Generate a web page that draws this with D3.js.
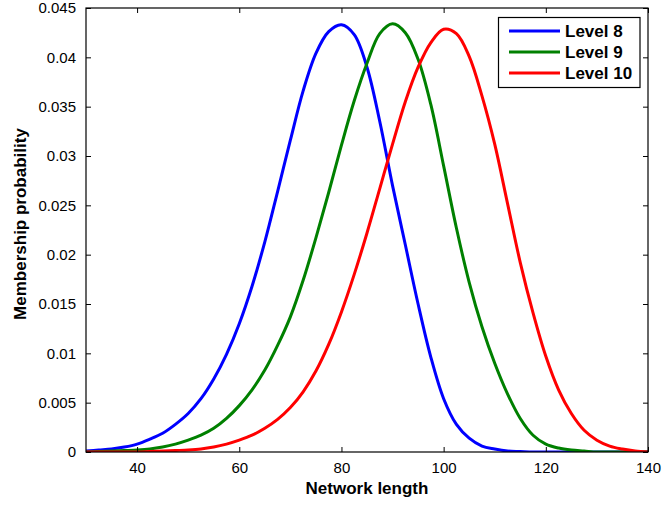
<!DOCTYPE html>
<html>
<head>
<meta charset="utf-8">
<script src="https://cdn.jsdelivr.net/npm/d3@7"></script>
<style>
  html, body { margin: 0; padding: 0; background: #fff; }
  svg { display: block; }
  text { font-family: "Liberation Sans", Arial, Helvetica, sans-serif; }
</style>
</head>
<body>
<div id="chart"></div>
<script>
// Network length grid (x values shared by all series)
const lengths = [30, 32.5, 35, 37.5, 40, 42.5, 45, 47.5, 50, 52.5, 55, 57.5, 60, 62.5, 65, 67.5,
  70, 72.5, 75, 77.5, 80, 82.5, 85, 87.5, 90, 92.5, 95, 97.5, 100, 102.5, 105, 107.5,
  110, 112.5, 115, 117.5, 120, 122.5, 125, 127.5, 130, 132.5, 135, 137.5, 140];

// Membership probability for each level
const level8 = [0.0001, 0.0002, 0.0003, 0.0005, 0.0008, 0.0013, 0.0019, 0.0028, 0.0039, 0.0054, 0.0074, 0.0099,
  0.0130, 0.0168, 0.0213, 0.0264, 0.0316, 0.0366, 0.0404, 0.0426, 0.0433, 0.0423, 0.0390, 0.0335,
  0.0270, 0.0210, 0.0150, 0.0096, 0.0054, 0.0028, 0.0014, 0.0006, 0.0003, 0.0001, 0.00005, 0,
  0, 0, 0, 0, 0, 0, 0, 0, 0];
const level9 = [0, 0.00005, 0.0001, 0.00015, 0.0002, 0.0003, 0.0005, 0.0008, 0.0012, 0.0017, 0.0024, 0.0034,
  0.0047, 0.0063, 0.0083, 0.0108, 0.0137, 0.0174, 0.0217, 0.0263, 0.0311, 0.0356, 0.0394, 0.0424,
  0.0434, 0.0425, 0.0398, 0.0352, 0.0290, 0.0227, 0.0172, 0.0127, 0.0090, 0.0059, 0.0034, 0.0017,
  0.0008, 0.0004, 0.0002, 0.0001, 0, 0, 0, 0, 0];
const level10 = [0, 0, 0, 0, 0, 0.00005, 0.0001, 0.00015, 0.0002, 0.0003, 0.0005, 0.0008,
  0.0012, 0.0017, 0.0024, 0.0033, 0.0045, 0.0061, 0.0082, 0.0109, 0.0142, 0.0180, 0.0222, 0.0267,
  0.0312, 0.0355, 0.0390, 0.0415, 0.04285, 0.0424, 0.0401, 0.0361, 0.0312, 0.0252, 0.0192, 0.0141,
  0.0097, 0.0063, 0.0039, 0.0022, 0.0012, 0.0006, 0.0003, 0.0001, 0];

const seriesNames = ["Level 8", "Level 9", "Level 10"];
const seriesColors = ["#0000ff", "#008000", "#ff0000"];
const seriesValues = [level8, level9, level10];

const xTicks = [40, 60, 80, 100, 120, 140];
const yTicks = [0, 0.005, 0.01, 0.015, 0.02, 0.025, 0.03, 0.035, 0.04, 0.045];
const yTickLabels = ["0", "0.005", "0.01", "0.015", "0.02", "0.025", "0.03", "0.035", "0.04", "0.045"];

const W = 662, H = 505;
const plotLeft = 86, plotRight = 648, plotTop = 8, plotBottom = 452;

const svg = d3.select("#chart").append("svg")
  .attr("width", W).attr("height", H);

const x = d3.scaleLinear().domain([30, 140]).range([plotLeft, plotRight]);
const y = d3.scaleLinear().domain([0, 0.045]).range([plotBottom, plotTop]);

// Curves
const line = d3.line()
  .x(d => x(d[0]))
  .y(d => y(d[1]))
  .curve(d3.curveCatmullRom.alpha(0.5));

svg.append("clipPath").attr("id", "plot-clip")
  .append("rect").attr("x", plotLeft).attr("y", plotTop - 3)
  .attr("width", plotRight - plotLeft).attr("height", plotBottom - plotTop + 3);

const plot = svg.append("g").attr("clip-path", "url(#plot-clip)");
seriesValues.forEach((vals, i) => {
  plot.append("path")
    .datum(lengths.map((l, j) => [l, vals[j]]))
    .attr("fill", "none")
    .attr("stroke", seriesColors[i])
    .attr("stroke-width", 3)
    .attr("stroke-linejoin", "round")
    .attr("d", line);
});

// Axes: ticks pointing inward on all four sides
const tickLen = 5;
const fontSize = 15;

const xBottom = svg.append("g").attr("transform", `translate(0,${plotBottom})`)
  .call(d3.axisBottom(x).tickValues(xTicks).tickSize(-tickLen).tickPadding(10)
    .tickFormat(d3.format("d")));
const xTop = svg.append("g").attr("transform", `translate(0,${plotTop})`)
  .call(d3.axisTop(x).tickValues(xTicks).tickSize(-tickLen).tickFormat(""));
const yLeft = svg.append("g").attr("transform", `translate(${plotLeft},0)`)
  .call(d3.axisLeft(y).tickValues(yTicks).tickSize(-tickLen).tickPadding(10)
    .tickFormat((d, i) => yTickLabels[i]));
const yRight = svg.append("g").attr("transform", `translate(${plotRight},0)`)
  .call(d3.axisRight(y).tickValues(yTicks).tickSize(-tickLen).tickFormat(""));

[xBottom, xTop, yLeft, yRight].forEach(g => {
  g.select(".domain").remove();
  g.selectAll(".tick line").attr("stroke", "#000").attr("stroke-width", 1);
  g.selectAll(".tick text")
    .attr("fill", "#000")
    .style("font-size", fontSize + "px");
});

// Box
svg.append("rect")
  .attr("x", plotLeft).attr("y", plotTop)
  .attr("width", plotRight - plotLeft).attr("height", plotBottom - plotTop)
  .attr("fill", "none").attr("stroke", "#000").attr("stroke-width", 1.2);

// Axis titles
svg.append("text")
  .attr("x", (plotLeft + plotRight) / 2).attr("y", 494)
  .attr("text-anchor", "middle")
  .style("font-size", "17px").style("font-weight", "bold")
  .text("Network length");

svg.append("text")
  .attr("transform", `translate(26,${(plotTop + plotBottom) / 2 - 6}) rotate(-90)`)
  .attr("text-anchor", "middle")
  .style("font-size", "17px").style("font-weight", "bold")
  .text("Membership probability");

// Legend
const lg = svg.append("g");
lg.append("rect")
  .attr("x", 498.5).attr("y", 17.5)
  .attr("width", 141.5).attr("height", 70)
  .attr("fill", "#fff").attr("stroke", "#000").attr("stroke-width", 1.2);
const rowY = [31, 52, 73];
seriesNames.forEach((name, i) => {
  lg.append("line")
    .attr("x1", 509).attr("x2", 560)
    .attr("y1", rowY[i]).attr("y2", rowY[i])
    .attr("stroke", seriesColors[i]).attr("stroke-width", 3);
  lg.append("text")
    .attr("x", 565).attr("y", rowY[i] + 6)
    .style("font-size", "17px").style("font-weight", "bold")
    .text(name);
});
</script>
</body>
</html>
